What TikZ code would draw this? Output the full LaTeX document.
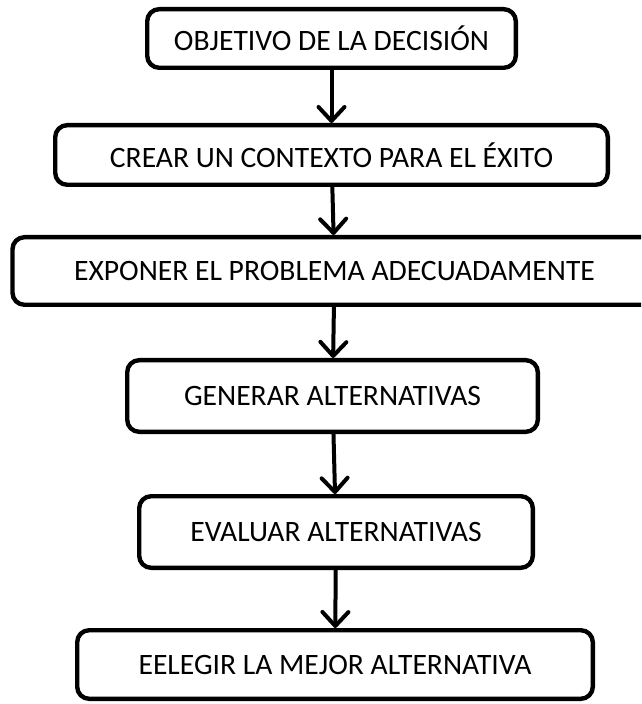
\documentclass[tikz,border=0pt]{standalone}
\usepackage{fontspec}
\setmainfont{Carlito}
\usetikzlibrary{positioning,arrows.meta}

\begin{document}
\begin{tikzpicture}[
        paso/.style={rectangle, draw=black, line width=2.2pt, rounded corners=6pt, align=center, font=\fontsize{14.8}{17}\selectfont, inner sep=0pt},
        arrow/.style={-{Straight Barb[length=7pt,width=13pt,round]}, line width=2pt},
      ]
      \clip (0,0) rectangle (320.5pt,-352pt);
      \node [paso, minimum width=184.3pt, minimum height=29.3pt] (objetivo) at (165.75pt,-19.25pt) {OBJETIVO DE LA DECISIÓN};
      \node [paso, minimum width=276.3pt, minimum height=29.8pt, below=26.5pt of objetivo] (contexto) {CREAR UN CONTEXTO PARA EL ÉXITO};
      \node [paso, minimum width=322pt, minimum height=33.8pt, below=24pt of contexto, xshift=1.5pt] (exponer) {EXPONER EL PROBLEMA ADECUADAMENTE};
      \node [paso, minimum width=205.3pt, minimum height=35.8pt, below=25.5pt of exponer, xshift=-1pt] (generar) {GENERAR ALTERNATIVAS};
      \node [paso, minimum width=196.8pt, minimum height=35.8pt, below=30pt of generar, xshift=1.75pt] (evaluar) {EVALUAR ALTERNATIVAS};
      \node [paso, minimum width=257.8pt, minimum height=34.3pt, below=29pt of evaluar, xshift=-0.5pt] (elegir) {EELEGIR LA MEJOR ALTERNATIVA};
      \draw [arrow] (objetivo) -- (contexto);
      \draw [arrow] (contexto) -- (exponer);
      \draw [arrow] (exponer) -- (generar);
      \draw [arrow] (generar) -- (evaluar);
      \draw [arrow] (evaluar) -- (elegir);
    \end{tikzpicture}
\end{document}
